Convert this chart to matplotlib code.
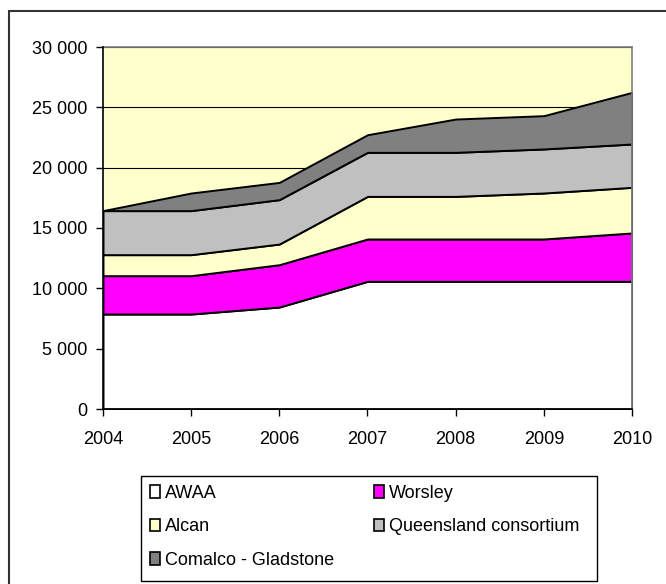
import matplotlib
matplotlib.use("Agg")
import matplotlib.pyplot as plt
from matplotlib.patches import Rectangle
from matplotlib.ticker import FuncFormatter
import numpy as np

plt.rcParams['font.family'] = ['Liberation Sans', 'DejaVu Sans']

years = [2004, 2005, 2006, 2007, 2008, 2009, 2010]
series_names = ["AWAA", "Worsley", "Alcan", "Queensland consortium", "Comalco - Gladstone"]
awaa = [7870, 7870, 8450, 10580, 10580, 10580, 10580]
worsley = [3180, 3180, 3510, 3510, 3510, 3510, 4010]
alcan = [1740, 1740, 1710, 3530, 3530, 3810, 3780]
queensland = [3650, 3650, 3680, 3650, 3650, 3650, 3590]
comalco = [0, 1460, 1430, 1460, 2760, 2760, 4280]
colors = ["#FFFFFF", "#FF00FF", "#FFFFCC", "#C0C0C0", "#808080"]

W, H = 666, 584
fig = plt.figure(figsize=(W / 100, H / 100), dpi=100)
fig.patch.set_facecolor("white")

# plot area in pixel units
left, right, top, bottom = 103, 632, 47, 409
ax = fig.add_axes([left / W, 1 - bottom / H, (right - left) / W, (bottom - top) / H])
ax.set_facecolor("#FFFFCC")

values = [awaa, worsley, alcan, queensland, comalco]
ax.stackplot(years, *values, colors=colors, edgecolor="black", linewidth=1.4, zorder=2)

ax.set_xlim(2004, 2010)
ax.set_ylim(0, 30000)
ax.set_yticks(np.arange(0, 30001, 5000))
ax.set_xticks(years)
ax.yaxis.set_major_formatter(FuncFormatter(lambda v, p: f"{int(v):,}".replace(",", " ")))
ax.grid(axis="y", color="black", linewidth=0.8, zorder=1)
ax.set_axisbelow(True)

for s in ["top", "right"]:
    ax.spines[s].set_color("#808080")
    ax.spines[s].set_linewidth(1.2)
for s in ["left", "bottom"]:
    ax.spines[s].set_color("black")
    ax.spines[s].set_linewidth(1.2)
    ax.spines[s].set_zorder(5)

ax.tick_params(axis="both", direction="out", length=5, width=1, color="black",
               labelsize=13, labelcolor="black")
ax.tick_params(axis="y", pad=6)
ax.tick_params(axis="x", pad=11)

# legend box
lx0, lx1, ly0, ly1 = 141, 597, 476, 581
fig.add_artist(Rectangle((lx0 / W, 1 - ly1 / H), (lx1 - lx0) / W, (ly1 - ly0) / H,
                         transform=fig.transFigure, facecolor="white",
                         edgecolor="black", linewidth=1.0, zorder=3))

handles = [Rectangle((0, 0), 1, 1, facecolor=c, edgecolor="black", linewidth=1.2) for c in colors]
order = [0, 2, 4, 1, 3]
leg = fig.legend([handles[i] for i in order], [series_names[i] for i in order],
                 loc="upper left", bbox_to_anchor=(lx0 / W, 1 - ly0 / H),
                 ncol=2, fontsize=13, frameon=False, borderaxespad=0,
                 handlelength=0.55, handleheight=0.7, handletextpad=0.28,
                 labelspacing=0.9, borderpad=0.5, columnspacing=2.2)
leg.set_zorder(4)

# chart border
fig.add_artist(Rectangle((9 / W, -0.05), 1.0, 1 - 11 / H + 0.05,
                         transform=fig.transFigure, facecolor="none",
                         edgecolor="#333333", linewidth=1.5))

fig.savefig("out.png", dpi=100)
